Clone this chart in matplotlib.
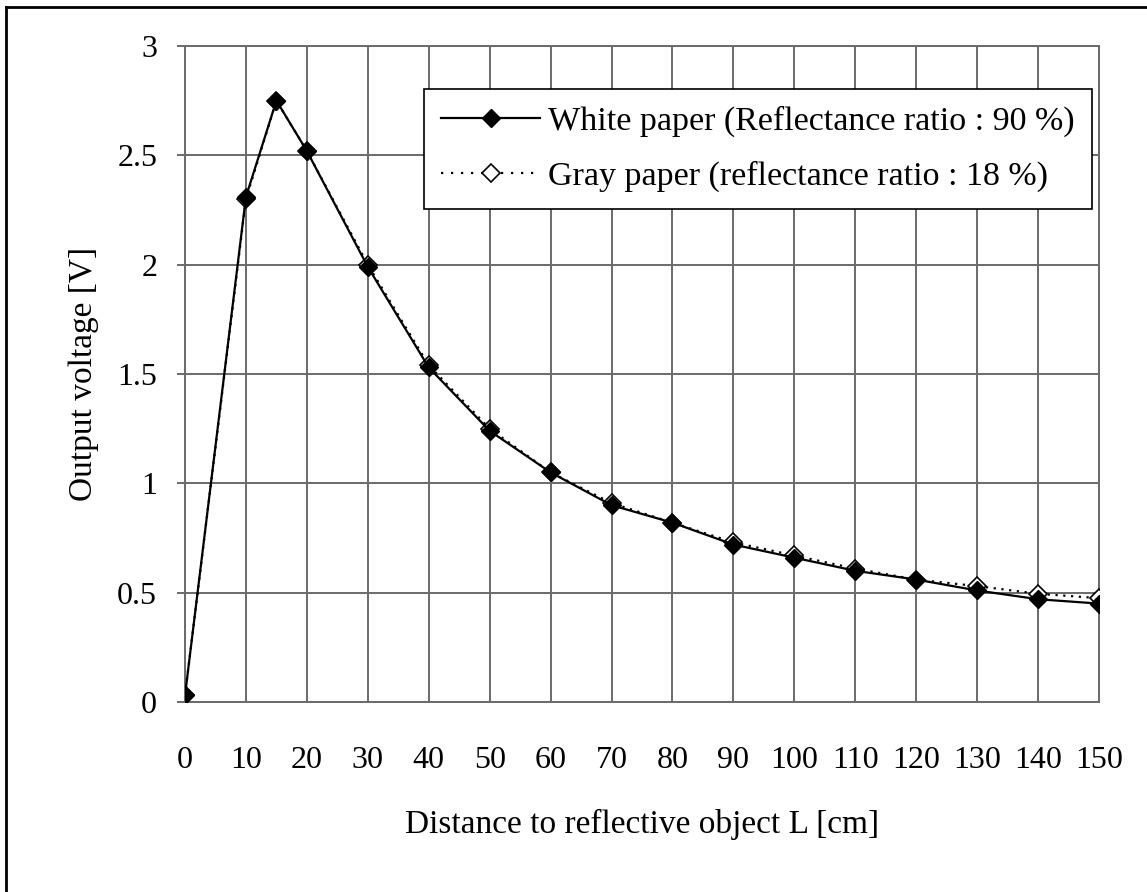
import matplotlib.pyplot as plt
from matplotlib.lines import Line2D

# distance [cm]
distance = [0, 10, 15, 20, 30, 40, 50, 60, 70, 80, 90, 100, 110, 120, 130, 140, 150]
# output voltage [V]
white_paper = [0.03, 2.31, 2.75, 2.52, 1.99, 1.53, 1.24, 1.05, 0.90, 0.82,
               0.72, 0.66, 0.60, 0.56, 0.51, 0.47, 0.45]
gray_paper = [0.03, 2.30, 2.75, 2.52, 2.00, 1.54, 1.25, 1.05, 0.91, 0.82,
              0.73, 0.67, 0.61, 0.56, 0.53, 0.495, 0.475]

x_ticks = list(range(0, 151, 10))
y_ticks = [0, 0.5, 1, 1.5, 2, 2.5, 3]
y_tick_labels = ['0', '0.5', '1', '1.5', '2', '2.5', '3']

label_white = 'White paper (Reflectance ratio : 90 %)'
label_gray = 'Gray paper (reflectance ratio : 18 %)'

plt.rcParams['font.family'] = ['Liberation Serif', 'DejaVu Serif']
grid_color = '#6a6a6a'
dots = (0, (1, 2.5))

fig = plt.figure(figsize=(11.47, 8.92), dpi=100)
ax = fig.add_axes([185 / 1147, 1 - 702 / 892, 914 / 1147, 656 / 892])

ax.plot(distance, gray_paper, color='black', linestyle=dots, linewidth=1.6,
        marker='D', markersize=9, markerfacecolor='white',
        markeredgecolor='black', markeredgewidth=1.2, zorder=3)
ax.plot(distance, white_paper, color='black', linestyle='-', linewidth=1.6,
        marker='D', markersize=9.5, markerfacecolor='black',
        markeredgecolor='black', zorder=4)

ax.set_xlim(0, 150)
ax.set_ylim(0, 3)
ax.set_xticks(x_ticks)
ax.set_yticks(y_ticks)
ax.set_yticklabels(y_tick_labels)
ax.grid(True, color=grid_color, linewidth=1.4)
ax.set_axisbelow(True)
for side in ax.spines.values():
    side.set_color(grid_color)
    side.set_linewidth(1.4)
ax.tick_params(axis='x', length=0, pad=32, labelsize=23)
ax.tick_params(axis='y', length=6, width=1.4, color=grid_color, pad=14,
               labelsize=23)

ax.set_xlabel('Distance to reflective object L [cm]', fontsize=24, labelpad=24)
ax.set_ylabel('Output voltage [V]', fontsize=24, labelpad=13)

handles = [
    Line2D([], [], color='black', linestyle='-', linewidth=1.6, marker='D',
           markersize=9.5, markerfacecolor='black'),
    Line2D([], [], color='black', linestyle=(0, (1, 3.5)), linewidth=1.6,
           marker='D', markersize=9, markerfacecolor='white',
           markeredgewidth=1.2),
]
leg = ax.legend(handles, [label_white, label_gray], loc='upper right',
                bbox_to_anchor=(1092 / 1147, 1 - 89 / 892),
                bbox_transform=fig.transFigure, fontsize=24.5, frameon=True,
                fancybox=False, framealpha=1, edgecolor='black',
                handlelength=2.9, handletextpad=0.25, borderpad=0.5,
                labelspacing=0.68, borderaxespad=0)
leg.get_frame().set_linewidth(1.2)

# figure border (top and left edges visible)
fig.add_artist(Line2D([6 / 1147, 6 / 1147], [0, 1 - 7 / 892],
                      transform=fig.transFigure, color='black', linewidth=2))
fig.add_artist(Line2D([6 / 1147, 1], [1 - 7 / 892, 1 - 7 / 892],
                      transform=fig.transFigure, color='black', linewidth=2))

fig.savefig('out.png', dpi=100)
